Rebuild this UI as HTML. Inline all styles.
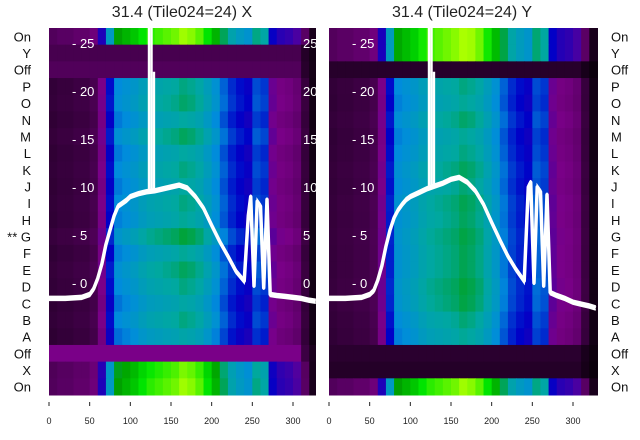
<!DOCTYPE html>
<html><head><meta charset="utf-8"><style>
body{margin:0;background:#fff;width:640px;height:440px;overflow:hidden;font-family:"Liberation Sans","DejaVu Sans",sans-serif}
svg{display:block}
</style></head><body>
<svg id="chart" width="640" height="440"></svg>
<script>
const rowLabels=["On","Y","Off","P","O","N","M","L","K","J","I","H","G","F","E","D","C","B","A","Off","X","On"];
const xBins=[0,10,20,30,40,50,60,70,80,90,100,110,120,130,140,150,160,170,180,190,200,210,220,230,240,250,260,270,280,290,300,310,320];
const profile=[0.16,0.17,0.17,0.18,0.18,0.2,0.3,0.46,0.58,0.6,0.62,0.65,0.67,0.68,0.69,0.7,0.72,0.71,0.69,0.65,0.6,0.54,0.49,0.46,0.44,0.52,0.5,0.32,0.29,0.28,0.26,0.17,0.06];
const rowScaleX=[1.38,0,0,1.0,1.02,0.97,1.03,0.97,1.0,0.97,1.0,0.98,1.06,0.98,1.03,1.0,0.96,1.0,0.95,0,1.35,1.38];
const rowFlatX=[null,0.2,0.22,null,null,null,null,null,null,null,null,null,null,null,null,null,null,null,null,0.3,null,null];
const rowScaleY=[1.4,1.4,0,1.0,0.98,1.02,0.98,1.0,1.03,1.01,1.04,1.03,1.05,1.04,1.04,1.06,1.05,1.01,0.98,0,0,1.38];
const rowFlatY=[null,null,0.13,null,null,null,null,null,null,null,null,null,null,null,null,null,null,null,null,0.14,0.12,null];
const lineX=[0,20,40,50,55,60,65,70,75,80,85,90,95,100,110,120,130,140,150,160,170,180,190,200,210,220,230,240,245,248,252,256,260,264,268,272,280,290,300,310,320,328];
const lineYX=[-1.6,-1.6,-1.5,-1.2,-0.6,0.5,2,4,5.5,7,8,8.3,8.6,9,9.3,9.5,9.6,9.8,10,10.2,9.9,9,7.8,6,4.3,2.8,1.2,0.2,7,9,-0.3,8.5,8,-0.5,8.7,-1.2,-1.3,-1.4,-1.5,-1.6,-1.8,-1.9];
const lineYY=[-1.6,-1.6,-1.5,-1.2,-0.8,0.3,1.8,3.8,5.5,6.8,7.6,8.2,8.7,9,9.4,9.8,10.1,10.4,10.8,11,10.5,9.6,8.2,6.3,4.5,2.8,1.4,0.2,10,10.5,0,10,9.5,-0.3,9.2,-1,-1.3,-1.6,-2,-2.2,-2.4,-2.6];
const spikeX=[123,126,129];
const spikeTop=[30,27,22];
const yTicks=[0,5,10,15,20,25];
const xTicks=[0,50,100,150,200,250,300];

const NS="http://www.w3.org/2000/svg";
const svg=document.getElementById('chart');
function el(t,a,p){const e=document.createElementNS(NS,t);for(const k in a)e.setAttribute(k,a[k]);(p||svg).appendChild(e);return e;}
const stops=[[0,[0,0,0]],[0.15,[45,0,50]],[0.3,[122,0,136]],[0.45,[0,0,200]],[0.58,[0,140,220]],[0.7,[0,168,160]],[0.8,[0,160,0]],[0.9,[0,230,0]],[1,[170,255,0]]];
function cmap(v){v=Math.max(0,Math.min(1,v));for(let i=1;i<stops.length;i++){if(v<=stops[i][0]){const a=stops[i-1],b=stops[i],t=(v-a[0])/(b[0]-a[0]);const c=a[1].map((x,k)=>Math.round(x+(b[1][k]-x)*t));return `rgb(${c})`;}}return 'rgb(170,255,0)';}
const top0=28,bot0=395,rowH=(bot0-top0)/rowLabels.length;
function panel(name,x0,title,scales,flats,lineY,labelSide){
  const sx=0.8133;const xs=v=>x0+1+v*sx;const ys=v=>283-v*9.6;
  const g=el('g',{});
  const t=el('text',{x:x0+134,y:17,'text-anchor':'middle','font-size':16,fill:'#222'},g);t.textContent=title;
  
  const hm=el('g',{},g);
  rowLabels.forEach((r,i)=>{xBins.forEach((b,j)=>{let v=flats[i]!==null?flats[i]:profile[j]*scales[i];
    if(flats[i]!==null&&(j>=31))v=v*(j==32?0.3:0.6);
    const c=el('rect',{x:xs(b),y:top0+i*rowH,width:10*sx+0.6,height:rowH+0.5,fill:cmap(v)},hm);
    });});
  yTicks.forEach(v=>{const tt=el('text',{x:x0+24,y:ys(v)+5,'font-size':13,fill:'#fff'},g);tt.textContent='- '+v;
    });
  let d='';lineX.forEach((v,i)=>{d+=(i?'L':'M')+xs(v).toFixed(1)+','+ys(lineY[i]).toFixed(1);});
  [-0.25,0.25].forEach(o=>{const p=el('path',{d:d,fill:'none',stroke:'#fff','stroke-width':1.5,transform:`translate(0,${o*8})`},g);
    });
  const p=el('path',{d:d,fill:'none',stroke:'#fff','stroke-width':3.5,'stroke-linejoin':'round'},g);
  
  spikeX.forEach((s,i)=>{const p=el('line',{x1:xs(s),x2:xs(s),y1:ys(lineY[16]),y2:Math.max(top0,ys(spikeTop[i])),stroke:'#fff','stroke-width':2.5},g);
    });
  xTicks.forEach(v=>{el('line',{x1:xs(v),x2:xs(v),y1:402,y2:406,stroke:'#222','stroke-width':1},g);
    const tt=el('text',{x:xs(v),y:424,'text-anchor':'middle','font-size':9,fill:'#222'},g);tt.textContent=v;
    });
  rowLabels.forEach((r,i)=>{const y=top0+(i+0.5)*rowH+5;
    const tt=el('text',{x:labelSide=='left'?31:611,y:y,'text-anchor':labelSide=='left'?'end':'start','font-size':13,fill:'#111'},g);
    tt.textContent=(labelSide=='left'&&i==12?'** ':'')+r;
    });
}
panel('panel-x',48,'31.4 (Tile024=24) X',rowScaleX,rowFlatX,lineYX,'left');
panel('panel-y',328,'31.4 (Tile024=24) Y',rowScaleY,rowFlatY,lineYY,'right');
el('rect',{x:316,y:26,width:11,height:372,fill:'#fff'});
[25,20,15,10,5,0].forEach(v=>{const tt=el('text',{x:303,y:283-v*9.6+5,'font-size':13,fill:'#fff'});tt.textContent=v;
  });
</script>
</body></html>
